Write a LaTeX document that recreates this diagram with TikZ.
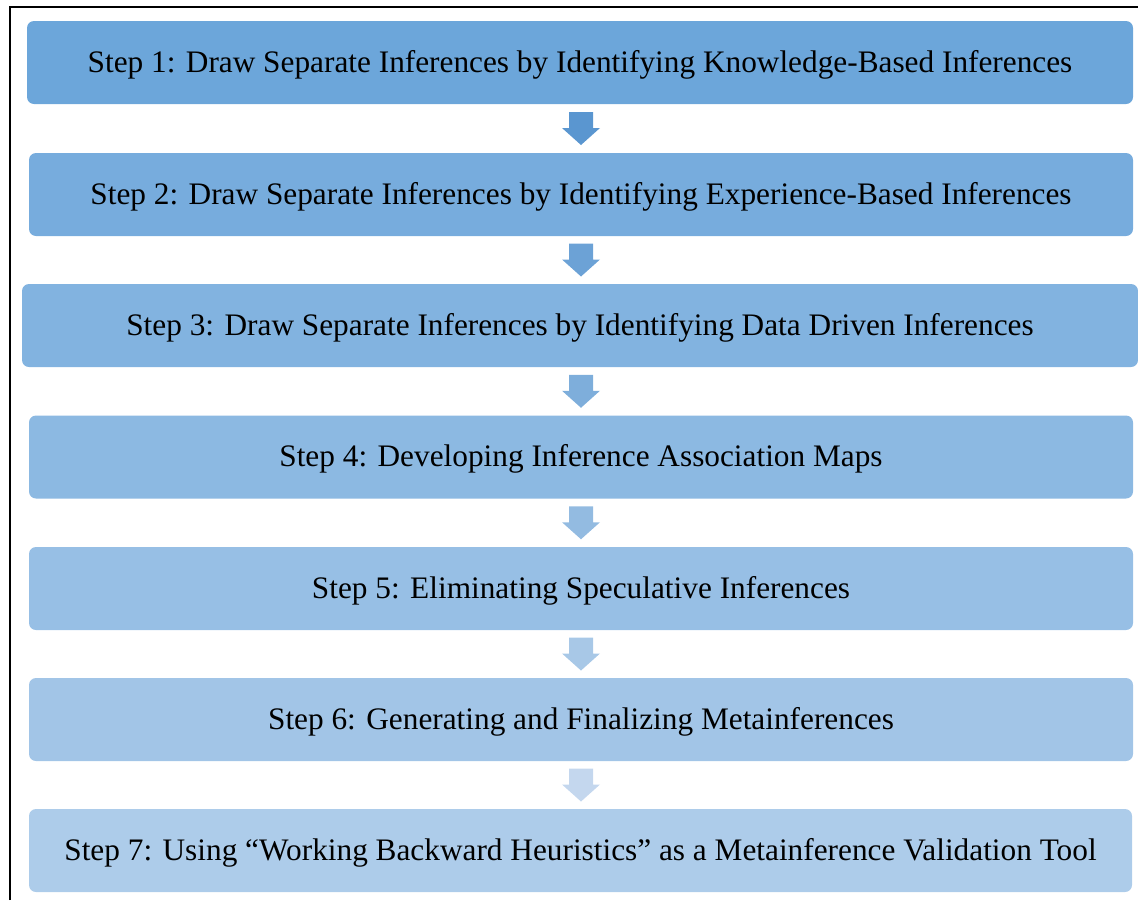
\documentclass[tikz,border=0pt]{standalone}
\usepackage{fontspec}
\setmainfont{Liberation Serif}
\usetikzlibrary{calc}

% step box fills, darkest at the top
\definecolor{boxA}{HTML}{6CA6DA}
\definecolor{boxB}{HTML}{77ACDD}
\definecolor{boxC}{HTML}{82B3E0}
\definecolor{boxD}{HTML}{8CB9E2}
\definecolor{boxE}{HTML}{97BFE5}
\definecolor{boxF}{HTML}{A2C5E7}
\definecolor{boxG}{HTML}{ADCCEA}
% block arrow fills
\definecolor{arrA}{HTML}{5A96D0}
\definecolor{arrB}{HTML}{6CA2D6}
\definecolor{arrC}{HTML}{7EAEDB}
\definecolor{arrD}{HTML}{93BBE1}
\definecolor{arrE}{HTML}{A8C8E7}
\definecolor{arrF}{HTML}{C4D7EE}

\tikzset{
  stepbox/.style={rounded corners=7pt, minimum height=83pt, inner sep=0pt,
    text depth=3pt, font=\fontsize{31.3}{37}\selectfont, text=black},
  blockarrow/.pic={
    \fill[#1] (-12,-16.5) -- (12,-16.5) -- (12,-0.5) -- (19,-0.5) -- (0,16.5)
      -- (-19,-0.5) -- (-12,-0.5) -- cycle;
  }
}

\begin{document}
\begin{tikzpicture}[x=1pt,y=-1pt]
\useasboundingbox (0,0) rectangle (1138,900);

% outer frame (left and top edges)
\draw[line width=2.5pt] (10,900) -- (10,7) -- (1138,7);

\node[stepbox, fill=boxA, minimum width=1106pt] (s1) at (580,62.5)
  {Step 1: Draw Separate Inferences by Identifying Knowledge-Based Inferences};
\node[stepbox, fill=boxB, minimum width=1104pt] (s2) at (581,194.5)
  {Step 2: Draw Separate Inferences by Identifying Experience-Based Inferences};
\node[stepbox, fill=boxC, minimum width=1116pt] (s3) at (580,325.5)
  {Step 3: Draw Separate Inferences by Identifying Data Driven Inferences};
\node[stepbox, fill=boxD, minimum width=1104pt] (s4) at (581,457)
  {Step 4: Developing Inference Association Maps};
\node[stepbox, fill=boxE, minimum width=1104pt] (s5) at (581,588.5)
  {Step 5: Eliminating Speculative Inferences};
\node[stepbox, fill=boxF, minimum width=1104pt] (s6) at (581,719.5)
  {Step 6: Generating and Finalizing Metainferences};
\node[stepbox, fill=boxG, minimum width=1103pt] (s7) at (580.5,850.5)
  {Step 7: Using “Working Backward Heuristics” as a Metainference Validation Tool};

% block arrows centred in the gaps between consecutive steps
\coordinate (a1) at ($(s1.south)!0.5!(s2.north)$);
\coordinate (a2) at ($(s2.south)!0.5!(s3.north)$);
\coordinate (a3) at ($(s3.south)!0.5!(s4.north)$);
\coordinate (a4) at ($(s4.south)!0.5!(s5.north)$);
\coordinate (a5) at ($(s5.south)!0.5!(s6.north)$);
\coordinate (a6) at ($(s6.south)!0.5!(s7.north)$);
\pic at (581,0 |- a1) {blockarrow=arrA};
\pic at (581,0 |- a2) {blockarrow=arrB};
\pic at (581,0 |- a3) {blockarrow=arrC};
\pic at (581,0 |- a4) {blockarrow=arrD};
\pic at (581,0 |- a5) {blockarrow=arrE};
\pic at (581,0 |- a6) {blockarrow=arrF};
\end{tikzpicture}
\end{document}
